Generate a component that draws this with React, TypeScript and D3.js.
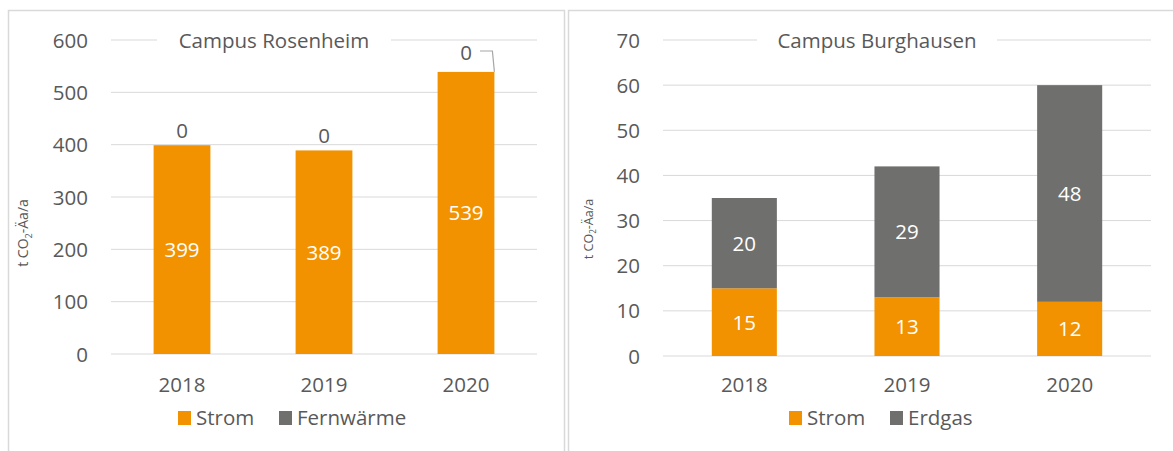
import * as d3 from "d3";

const years = ["2018", "2019", "2020"];
const rosenheimStrom = [399, 389, 539];
const rosenheimFernwaerme = [0, 0, 0];
const burghausenStrom = [15, 13, 12];
const burghausenErdgas = [20, 29, 48];
const rosenheimTicks = [0, 100, 200, 300, 400, 500, 600];
const burghausenTicks = [0, 10, 20, 30, 40, 50, 60, 70];

const ORANGE = "#F39200";
const GREY = "#6F6F6E";
const TEXT = "#595959";
const GRID = "#D9D9D9";
const FONT = "'Open Sans', sans-serif";
const FS = 20.5;

const YTitle = ({ x, y, size }: { x: number; y: number; size: number }) => (
  <text
    transform={`translate(${x},${y}) rotate(-90)`}
    textAnchor="middle"
    fontSize={size}
    fill={TEXT}
    fontFamily={FONT}
  >
    t CO<tspan fontSize={size * 0.65} dy={size * 0.25}>2</tspan>
    <tspan dy={-size * 0.25}>-Äa/a</tspan>
  </text>
);

const Legend = ({ x, items }: { x: number; items: { label: string; color: string; w: number }[] }) => {
  let cx = x;
  return (
    <g>
      {items.map((it) => {
        const gx = cx;
        cx += 14 + 6 + it.w + 24;
        return (
          <g key={it.label}>
            <rect x={gx} y={411} width={13} height={14} fill={it.color} />
            <text x={gx + 18} y={425} fontSize={FS} fill={TEXT} fontFamily={FONT}>
              {it.label}
            </text>
          </g>
        );
      })}
    </g>
  );
};

function Rosenheim() {
  const x = d3.scaleBand().domain(years).range([111, 537]).paddingInner(0.6).paddingOuter(0.3);
  const y = d3.scaleLinear().domain([0, 600]).range([354, 40]);
  return (
    <g>
      {rosenheimTicks.map((t) => (
        <g key={t}>
          <line x1={111} x2={537} y1={y(t)} y2={y(t)} stroke={GRID} strokeWidth={1} />
          <text x={88} y={y(t) + 7.5} textAnchor="end" fontSize={FS} fill={TEXT} fontFamily={FONT}>
            {t}
          </text>
        </g>
      ))}
      <rect x={157} y={28} width={234} height={24} fill="#fff" />
      <text x={274} y={47.5} textAnchor="middle" fontSize={FS} fill={TEXT} fontFamily={FONT}>
        Campus Rosenheim
      </text>
      {years.map((yr, i) => {
        const bx = x(yr)!;
        const top = y(rosenheimStrom[i]);
        const cx = bx + x.bandwidth() / 2;
        const lifted = i === 2;
        const ly = lifted ? y(600) + 19.5 : top - 7.5;
        return (
          <g key={yr}>
            <rect x={bx} y={top} width={x.bandwidth()} height={y(0) - top} fill={ORANGE} />
            <text
              x={cx}
              y={(top + y(0)) / 2 + 7.5}
              textAnchor="middle"
              fontSize={FS}
              fill="#fff"
              fontFamily={FONT}
            >
              {rosenheimStrom[i]}
            </text>
            <text x={cx} y={ly} textAnchor="middle" fontSize={FS} fill={TEXT} fontFamily={FONT}>
              {rosenheimFernwaerme[i]}
            </text>
            {lifted && (
              <polyline
                points={`${cx + 14},${ly - 8.5} ${bx + x.bandwidth() - 2},${ly - 8.5} ${bx + x.bandwidth()},${top}`}
                fill="none"
                stroke="#A6A6A6"
                strokeWidth={1.2}
              />
            )}
            <text x={cx} y={391.5} textAnchor="middle" fontSize={FS} fill={TEXT} fontFamily={FONT}>
              {yr}
            </text>
          </g>
        );
      })}
      <YTitle x={28} y={233} size={14} />
      <Legend
        x={178}
        items={[
          { label: "Strom", color: ORANGE, w: 57 },
          { label: "Fernwärme", color: GREY, w: 110 },
        ]}
      />
    </g>
  );
}

function Burghausen() {
  const x = d3.scaleBand().domain(years).range([663, 1151]).paddingInner(0.6).paddingOuter(0.3);
  const y = d3.scaleLinear().domain([0, 70]).range([356, 40]);
  return (
    <g>
      {burghausenTicks.map((t) => (
        <g key={t}>
          <line x1={663} x2={1151} y1={y(t)} y2={y(t)} stroke={GRID} strokeWidth={1} />
          <text x={640} y={y(t) + 7.5} textAnchor="end" fontSize={FS} fill={TEXT} fontFamily={FONT}>
            {t}
          </text>
        </g>
      ))}
      <rect x={757} y={28} width={240} height={24} fill="#fff" />
      <text x={877} y={47.5} textAnchor="middle" fontSize={FS} fill={TEXT} fontFamily={FONT}>
        Campus Burghausen
      </text>
      {years.map((yr, i) => {
        const bx = x(yr)!;
        const s = burghausenStrom[i];
        const e = burghausenErdgas[i];
        const cx = bx + x.bandwidth() / 2;
        return (
          <g key={yr}>
            <rect x={bx} y={y(s)} width={x.bandwidth()} height={y(0) - y(s)} fill={ORANGE} />
            <rect x={bx} y={y(s + e)} width={x.bandwidth()} height={y(s) - y(s + e)} fill={GREY} />
            <text x={cx} y={(y(0) + y(s)) / 2 + 7.5} textAnchor="middle" fontSize={FS} fill="#fff" fontFamily={FONT}>
              {s}
            </text>
            <text x={cx} y={(y(s) + y(s + e)) / 2 + 7.5} textAnchor="middle" fontSize={FS} fill="#fff" fontFamily={FONT}>
              {e}
            </text>
            <text x={cx} y={392} textAnchor="middle" fontSize={FS} fill={TEXT} fontFamily={FONT}>
              {yr}
            </text>
          </g>
        );
      })}
      <YTitle x={593} y={229} size={12.5} />
      <Legend
        x={789}
        items={[
          { label: "Strom", color: ORANGE, w: 57 },
          { label: "Erdgas", color: GREY, w: 63 },
        ]}
      />
    </g>
  );
}

export default function App() {
  return (
    <svg
      width={1173}
      height={451}
      style={{ position: "absolute", left: 0, top: 0, display: "block", background: "#fff" }}
    >
      <rect x={8.5} y={10.5} width={556} height={460} fill="#fff" stroke={GRID} strokeWidth={1.5} />
      <rect x={568.5} y={10.5} width={620} height={460} fill="#fff" stroke={GRID} strokeWidth={1.5} />
      <Rosenheim />
      <Burghausen />
    </svg>
  );
}
